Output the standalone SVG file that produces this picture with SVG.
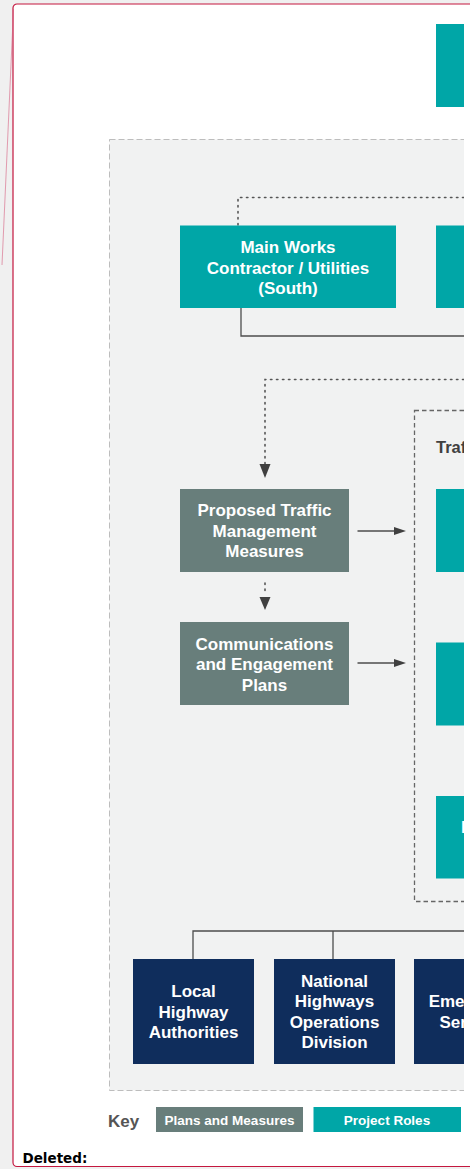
<svg xmlns="http://www.w3.org/2000/svg" width="470" height="1169" viewBox="0 0 470 1169">
<defs>
<style>
.teal{fill:#00a6a7}
.grey{fill:#687e7b}
.navy{fill:#0f2d5c}
.wt{fill:#fff;font-family:"Liberation Sans",Arial,sans-serif;font-weight:bold;font-size:17px;text-anchor:middle}
.dot{fill:none;stroke:#555;stroke-width:1.6;stroke-dasharray:1.4 4.6;stroke-linecap:round}
.solid{fill:none;stroke:#4d4d4d;stroke-width:1.3}
.ah{fill:#404040}
</style>
<clipPath id="img"><rect x="16" y="8" width="448" height="1156"/></clipPath>
</defs>
<rect x="0" y="0" width="470" height="1169" fill="#f0f0f0"/>
<rect id="frame" x="13" y="4" width="470" height="1162.5" rx="4" fill="#fff" stroke="#c4173f" stroke-width="1.2"/>
<line x1="13.5" y1="9" x2="2" y2="265" stroke="#d6577a" stroke-width="0.8" opacity="0.7"/>
<g clip-path="url(#img)">
<rect id="outer" x="109.5" y="139.5" width="400" height="951" fill="#f1f2f2" stroke="#bdbdbd" stroke-width="1" stroke-dasharray="6 3"/>
<rect id="traffic-group" x="414.5" y="410.5" width="200" height="491" fill="none" stroke="#666" stroke-width="1.3" stroke-dasharray="4.5 3"/>
<text x="436" y="453" font-family="'Liberation Sans',Arial,sans-serif" font-weight="bold" font-size="16.5" fill="#404040">Traffic</text>
<g id="connectors">
<polyline class="dot" points="238,225 238,197.5 470,197.5"/>
<polyline class="solid" points="241,308 241,336 470,336"/>
<polyline class="dot" points="265,464 265,379.5 470,379.5"/>
<polygon class="ah" points="259.5,464 270.5,464 265,478"/>
<line class="dot" x1="265" y1="583" x2="265" y2="593"/>
<polygon class="ah" points="259.5,597 270.5,597 265,610"/>
<line class="solid" x1="357.5" y1="531" x2="396" y2="531"/>
<polygon class="ah" points="394,527 406,531 394,535"/>
<line class="solid" x1="357.5" y1="663" x2="396" y2="663"/>
<polygon class="ah" points="394,659 406,663 394,667"/>
<polyline class="solid" points="193,959 193,931 470,931"/>
<line class="solid" x1="333" y1="931" x2="333" y2="959"/>
</g>
<g id="top-role"><rect class="teal" x="436" y="24" width="60" height="83"/></g>
<g id="main-works-south">
<rect class="teal" x="180" y="225.5" width="216" height="82.5"/>
<text class="wt" x="288" y="253">Main Works</text>
<text class="wt" x="288" y="273.5">Contractor / Utilities</text>
<text class="wt" x="288" y="294">(South)</text>
</g>
<g id="main-works-2"><rect class="teal" x="436" y="225.5" width="216" height="82.5"/></g>
<g id="proposed-tm">
<rect class="grey" x="180" y="489" width="169" height="83"/>
<text class="wt" x="264.5" y="516">Proposed Traffic</text>
<text class="wt" x="264.5" y="536.5">Management</text>
<text class="wt" x="264.5" y="557">Measures</text>
</g>
<g id="comms-plans">
<rect class="grey" x="180" y="622" width="169" height="83"/>
<text class="wt" x="264.5" y="649.5">Communications</text>
<text class="wt" x="264.5" y="670">and Engagement</text>
<text class="wt" x="264.5" y="690.5">Plans</text>
</g>
<g id="tm-role-1"><rect class="teal" x="436" y="489" width="216" height="83"/></g>
<g id="tm-role-2"><rect class="teal" x="436" y="642.5" width="216" height="83"/></g>
<g id="tm-role-3">
<rect class="teal" x="436" y="796" width="216" height="82.5"/>
<text x="461" y="833" font-family="'Liberation Sans',Arial,sans-serif" font-weight="bold" font-size="17" fill="#fff">I</text>
</g>
<g id="local-highway">
<rect class="navy" x="133" y="959" width="121" height="105"/>
<text class="wt" x="193.5" y="997">Local</text>
<text class="wt" x="193.5" y="1017.5">Highway</text>
<text class="wt" x="193.5" y="1038">Authorities</text>
</g>
<g id="nh-ops">
<rect class="navy" x="274" y="959" width="121" height="105"/>
<text class="wt" x="334.5" y="987">National</text>
<text class="wt" x="334.5" y="1007.3">Highways</text>
<text class="wt" x="334.5" y="1027.6">Operations</text>
<text class="wt" x="334.5" y="1048">Division</text>
</g>
<g id="emergency">
<rect class="navy" x="414" y="959" width="121" height="105"/>
<text class="wt" x="474.5" y="1007.3">Emergency</text>
<text class="wt" x="474.5" y="1027.7">Services</text>
</g>
<g id="key">
<text x="108" y="1126.5" font-family="'Liberation Sans',Arial,sans-serif" font-weight="bold" font-size="17" fill="#555">Key</text>
<rect class="grey" x="156" y="1107" width="147" height="25"/>
<text x="229.5" y="1124.5" font-family="'Liberation Sans',Arial,sans-serif" font-weight="bold" font-size="13.5" fill="#fff" text-anchor="middle">Plans and Measures</text>
<rect class="teal" x="313.5" y="1107" width="147.5" height="25"/>
<text x="387" y="1124.5" font-family="'Liberation Sans',Arial,sans-serif" font-weight="bold" font-size="13.5" fill="#fff" text-anchor="middle">Project Roles</text>
</g>
</g>
<text x="22.5" y="1163" font-family="'DejaVu Sans',Verdana,sans-serif" font-weight="bold" font-size="13.5" fill="#000">Deleted:</text>
</svg>
